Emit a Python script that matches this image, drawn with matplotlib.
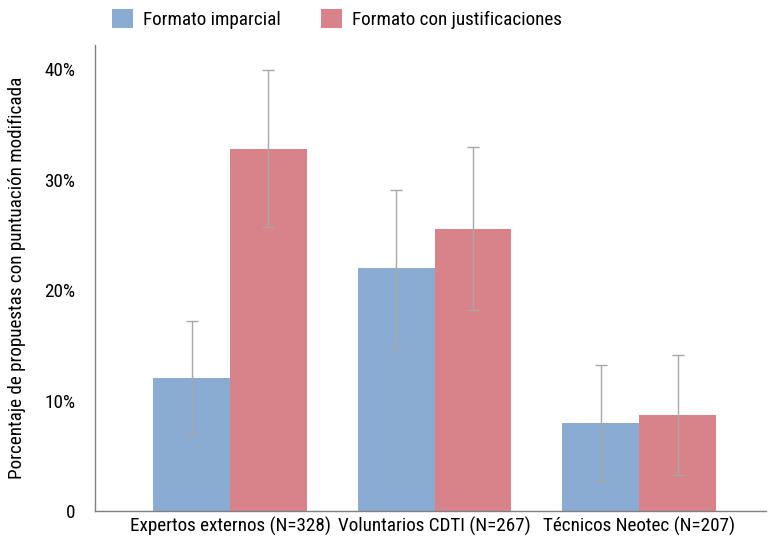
import matplotlib
matplotlib.use("Agg")
import matplotlib.pyplot as plt
from matplotlib.patches import Patch
from matplotlib.ticker import FixedLocator, FixedFormatter
from matplotlib import font_manager
import numpy as np

avail = {f.name for f in font_manager.fontManager.ttflist}
fams = [f for f in ['Roboto Condensed', 'Liberation Sans Narrow', 'Liberation Sans'] if f in avail]
plt.rcParams['font.family'] = fams + ['DejaVu Sans']
narrow = fams[0] != 'Liberation Sans'
fs = 13.8 if narrow else 12

categories = ["Expertos externos (N=328)", "Voluntarios CDTI (N=267)", "Técnicos Neotec (N=207)"]
series_names = ["Formato imparcial", "Formato con justificaciones"]
imparcial = [12.0, 22.0, 8.0]
imparcial_lo = [7.0, 14.8, 2.7]
imparcial_hi = [17.2, 29.1, 13.2]
justif = [32.8, 25.5, 8.7]
justif_lo = [25.7, 18.2, 3.3]
justif_hi = [39.9, 33.0, 14.1]
yticks = [0, 10, 20, 30, 40]
yticklabels = ["0", "10%", "20%", "30%", "40%"]

blue = "#8AACD3"
red = "#D88389"
errc = "#a8a8a8"

fig = plt.figure(figsize=(7.7, 5.38), dpi=100)
ax = fig.add_axes([95/770, 27/538, 671/770, 466/538])

x = np.arange(len(categories))
w = 0.375
err_i = [np.array(imparcial) - np.array(imparcial_lo), np.array(imparcial_hi) - np.array(imparcial)]
err_j = [np.array(justif) - np.array(justif_lo), np.array(justif_hi) - np.array(justif)]
ekw = dict(ecolor=errc, elinewidth=1.0, capsize=4.5, capthick=1.0)
ax.bar(x - w/2, imparcial, w, color=blue, yerr=err_i, error_kw=ekw, zorder=2)
ax.bar(x + w/2, justif, w, color=red, yerr=err_j, error_kw=ekw, zorder=2)

ax.set_xlim(-0.66, 2.62)
ax.set_ylim(0, 42.2)
ax.yaxis.set_major_locator(FixedLocator(yticks))
ax.yaxis.set_major_formatter(FixedFormatter(yticklabels))
ax.set_xticks(x)
ax.set_xticklabels(categories)
ax.tick_params(axis='both', length=0, labelsize=fs, colors='black')
ax.tick_params(axis='y', pad=14)
ax.tick_params(axis='x', pad=4)
for s in ['top', 'right']:
    ax.spines[s].set_visible(False)
for s in ['left', 'bottom']:
    ax.spines[s].set_color('#808080')
    ax.spines[s].set_linewidth(1.0)
ax.set_ylabel("Porcentaje de propuestas con puntuación modificada", fontsize=fs, labelpad=13)

handles = [Patch(facecolor=blue), Patch(facecolor=red)]
fig.legend(handles, series_names, loc='upper left', bbox_to_anchor=(95/770, 1.016), ncol=2,
           frameon=False, fontsize=fs, handlelength=1.1, handleheight=1.2, columnspacing=2.1,
           handletextpad=0.5)

fig.savefig("out.png", dpi=100)
